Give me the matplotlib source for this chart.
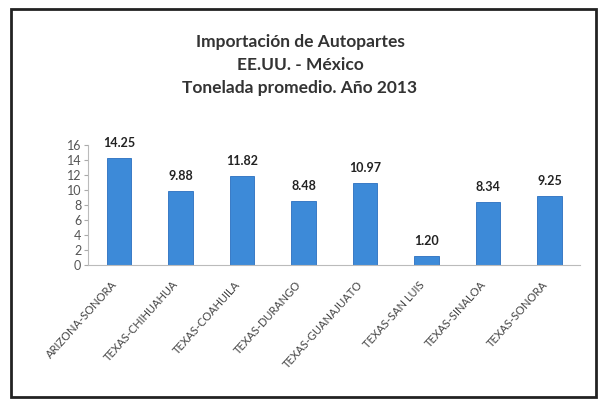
import matplotlib.pyplot as plt
import matplotlib.transforms as mtransforms
from matplotlib.patches import Rectangle
import numpy as np

plt.rcParams['font.family'] = ['Lato', 'DejaVu Sans']

rutas = ['ARIZONA-SONORA', 'TEXAS-CHIHUAHUA', 'TEXAS-COAHUILA', 'TEXAS-DURANGO',
         'TEXAS-GUANAJUATO', 'TEXAS-SAN LUIS', 'TEXAS-SINALOA', 'TEXAS-SONORA']
toneladas = [14.25, 9.88, 11.82, 8.48, 10.97, 1.20, 8.34, 9.25]
yticks = [0, 2, 4, 6, 8, 10, 12, 14, 16]

fig = plt.figure(figsize=(6, 4), dpi=100)
ax = fig.add_axes([0.147, 0.3375, 0.82, 0.30])

x = np.arange(len(rutas))
ax.bar(x, toneladas, width=0.4, color='#3d8ad8', edgecolor='#2a6fbf', linewidth=0.6)
for xi, v in zip(x, toneladas):
    ax.text(xi, v + 1.2, '%.2f' % v, ha='center', va='bottom',
            fontsize=9, fontweight='bold', color='#222222')

ax.set_xlim(-0.5, len(rutas) - 0.5)
ax.set_ylim(0, 16)
ax.set_yticks(yticks)
ax.tick_params(axis='y', labelsize=9, labelcolor='#555555', color='#aaaaaa', length=3, pad=2)
ax.set_xticks(x)
ax.set_xticklabels(rutas, rotation=48, ha='right', rotation_mode='anchor',
                   fontsize=8, color='#444444')
ax.tick_params(axis='x', length=0, pad=10)
shift = mtransforms.ScaledTranslation(-8 / 100, 0, fig.dpi_scale_trans)
for lab in ax.get_xticklabels():
    lab.set_transform(lab.get_transform() + shift)
for s in ['top', 'right']:
    ax.spines[s].set_visible(False)
ax.spines['left'].set_color('#bbbbbb')
ax.spines['bottom'].set_color('#bbbbbb')

fig.text(0.5, 0.895, 'Importación de Autopartes', ha='center', va='center',
         fontsize=12.5, fontweight='bold', color='#333333')
fig.text(0.5, 0.838, 'EE.UU. - México', ha='center', va='center',
         fontsize=12.5, fontweight='bold', color='#333333')
fig.text(0.5, 0.781, 'Tonelada promedio. Año 2013', ha='center', va='center',
         fontsize=12.5, fontweight='bold', color='#333333')

# marco del grafico
fig.patches.append(Rectangle((0.018, 0.008), 0.975, 0.97, transform=fig.transFigure,
                             fill=False, edgecolor='#222222', linewidth=2))

fig.savefig('out.png', dpi=100)
